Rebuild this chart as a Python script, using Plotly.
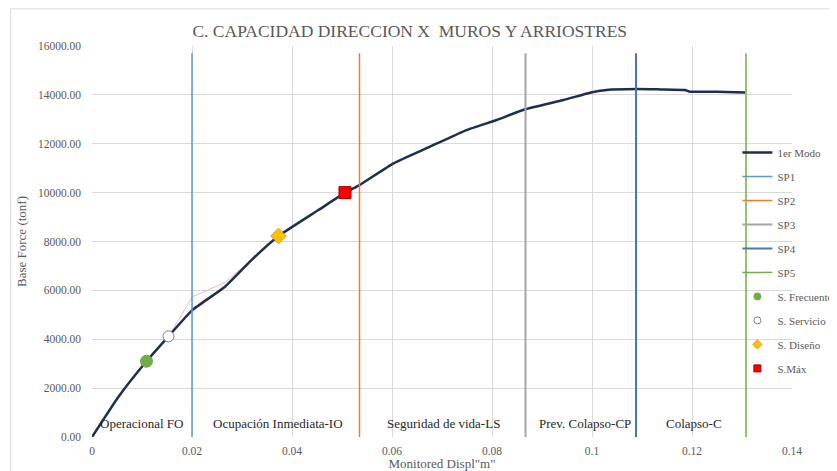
import plotly.graph_objects as go

# ---- data ----
disp = [0, 0.0053, 0.0109, 0.0153, 0.0201, 0.0266, 0.0319, 0.0373, 0.0453, 0.0506,
        0.0535, 0.0603, 0.0676, 0.0749, 0.0809, 0.0866, 0.0943, 0.0996, 0.1029,
        0.1089, 0.1136, 0.1186, 0.1196, 0.1249, 0.1306]
force = [0, 1650, 3100, 4120, 5200, 6150, 7240, 8225, 9290, 10000,
         10310, 11200, 11880, 12560, 12970, 13410, 13790, 14090, 14200,
         14240, 14225, 14200, 14130, 14130, 14100]

bilin_x = [0.0153, 0.0201, 0.0266, 0.0373]
bilin_y = [4120, 5740, 6320, 8225]

sp_names = ["SP1", "SP2", "SP3", "SP4", "SP5"]
sp_disp = [0.0200, 0.0535, 0.0867, 0.1088, 0.1308]
sp_top = 15700

pt_names = ["S. Frecuente", "S. Servicio", "S. Diseño", "S.Máx"]
pt_disp = [0.0109, 0.0153, 0.0373, 0.0506]
pt_force = [3100, 4120, 8225, 10000]

zone_names = ["Operacional FO", "Ocupación Inmediata-IO", "Seguridad de vida-LS",
              "Prev. Colapso-CP", "Colapso-C"]
zone_x = [0.0099, 0.0371, 0.0702, 0.0985, 0.1204]
zone_y = 552

x_ticks = [0, 0.02, 0.04, 0.06, 0.08, 0.1, 0.12, 0.14]
x_tick_labels = ["0", "0.02", "0.04", "0.06", "0.08", "0.1", "0.12", "0.14"]
y_ticks = [0, 2000, 4000, 6000, 8000, 10000, 12000, 14000, 16000]
y_tick_labels = ["%.2f" % v for v in y_ticks]

# ---- styles ----
SERIF = "Liberation Serif, Times New Roman, serif"
sp_colors = ["#5B9BD5", "#ED7D31", "#A5A5A5", "#4A76B0", "#70AD47"]
sp_widths = [1.5, 1.5, 2, 2, 1.5]
pt_symbols = ["circle", "circle", "diamond", "square"]
pt_colors = ["#70AD47", "#FFFFFF", "#FFC000", "#FF0000"]
pt_lines = ["#70AD47", "#7F7F7F", "#C9A227", "#A00000"]
pt_sizes = [12, 11, 12, 12]

fig = go.Figure()

fig.add_trace(go.Scatter(x=bilin_x, y=bilin_y, mode="lines",
                         line=dict(color="#E6B8CC", width=1),
                         showlegend=False, hoverinfo="skip"))

fig.add_trace(go.Scatter(x=disp, y=force, mode="lines", name="1er Modo",
                         legendgroup="g0", line_shape="spline",
                         line=dict(color="#1F2D4F", width=2.5, smoothing=0.4)))

for i, (n, v) in enumerate(zip(sp_names, sp_disp)):
    fig.add_trace(go.Scatter(x=[v, v], y=[0, sp_top], mode="lines", name=n,
                             legendgroup="g%d" % (i + 1),
                             line=dict(color=sp_colors[i], width=sp_widths[i])))

for i, n in enumerate(pt_names):
    fig.add_trace(go.Scatter(x=[pt_disp[i]], y=[pt_force[i]], mode="markers", name=n,
                             legendgroup="p%d" % i, showlegend=False,
                             marker=dict(symbol=pt_symbols[i], color=pt_colors[i],
                                         size=pt_sizes[i],
                                         line=dict(color=pt_lines[i], width=1))))
    # legend entry with smaller marker, as in the reference legend
    fig.add_trace(go.Scatter(x=[None], y=[None], mode="markers", name=n,
                             legendgroup="p%d" % i, hoverinfo="skip",
                             marker=dict(symbol=pt_symbols[i], color=pt_colors[i],
                                         size=7,
                                         line=dict(color=pt_lines[i], width=1))))

for n, x in zip(zone_names, zone_x):
    fig.add_annotation(x=x, y=zone_y, text=n, showarrow=False,
                       font=dict(family=SERIF, size=13, color="#262626"))

fig.add_shape(type="rect", xref="paper", yref="paper",
              x0=-0.1163, x1=1.2, y0=-0.2, y1=1.095,
              line=dict(color="#D9D9D9", width=1), layer="above")

fig.update_layout(
    width=837, height=471,
    margin=dict(l=83.5, r=53, t=38, b=41.5, autoexpand=False),
    paper_bgcolor="white", plot_bgcolor="white",
    title=dict(text="C. CAPACIDAD DIRECCION X  MUROS Y ARRIOSTRES",
               x=0.48, xanchor="center", y=0.951, yanchor="middle",
               font=dict(family=SERIF, size=17.5, color="#595959")),
    font=dict(family=SERIF, color="#595959"),
    showlegend=True,
    legend=dict(x=0.922, xanchor="left", y=0.765, yanchor="top",
                bgcolor="rgba(0,0,0,0)", traceorder="grouped", tracegroupgap=5,
                font=dict(family=SERIF, size=11, color="#595959")),
    xaxis=dict(range=[0, 0.14], tickvals=x_ticks, ticktext=x_tick_labels,
               showgrid=True, gridcolor="#D9D9D9", gridwidth=1, automargin=False,
               zeroline=False, showline=False, ticklabelstandoff=5,
               tickfont=dict(family=SERIF, size=11.5, color="#595959"),
               title=dict(text='Monitored Displ"m"', standoff=2,
                          font=dict(family=SERIF, size=13, color="#595959"))),
    yaxis=dict(range=[0, 16000], tickvals=y_ticks, ticktext=y_tick_labels,
               showgrid=True, gridcolor="#D9D9D9", gridwidth=1, automargin=False,
               zeroline=False, showline=False, ticklabelstandoff=10,
               tickfont=dict(family=SERIF, size=11.5, color="#595959"),
               title=dict(text="Base Force (tonf)", standoff=8,
                          font=dict(family=SERIF, size=13, color="#595959"))),
)

fig.write_html("out.html")
